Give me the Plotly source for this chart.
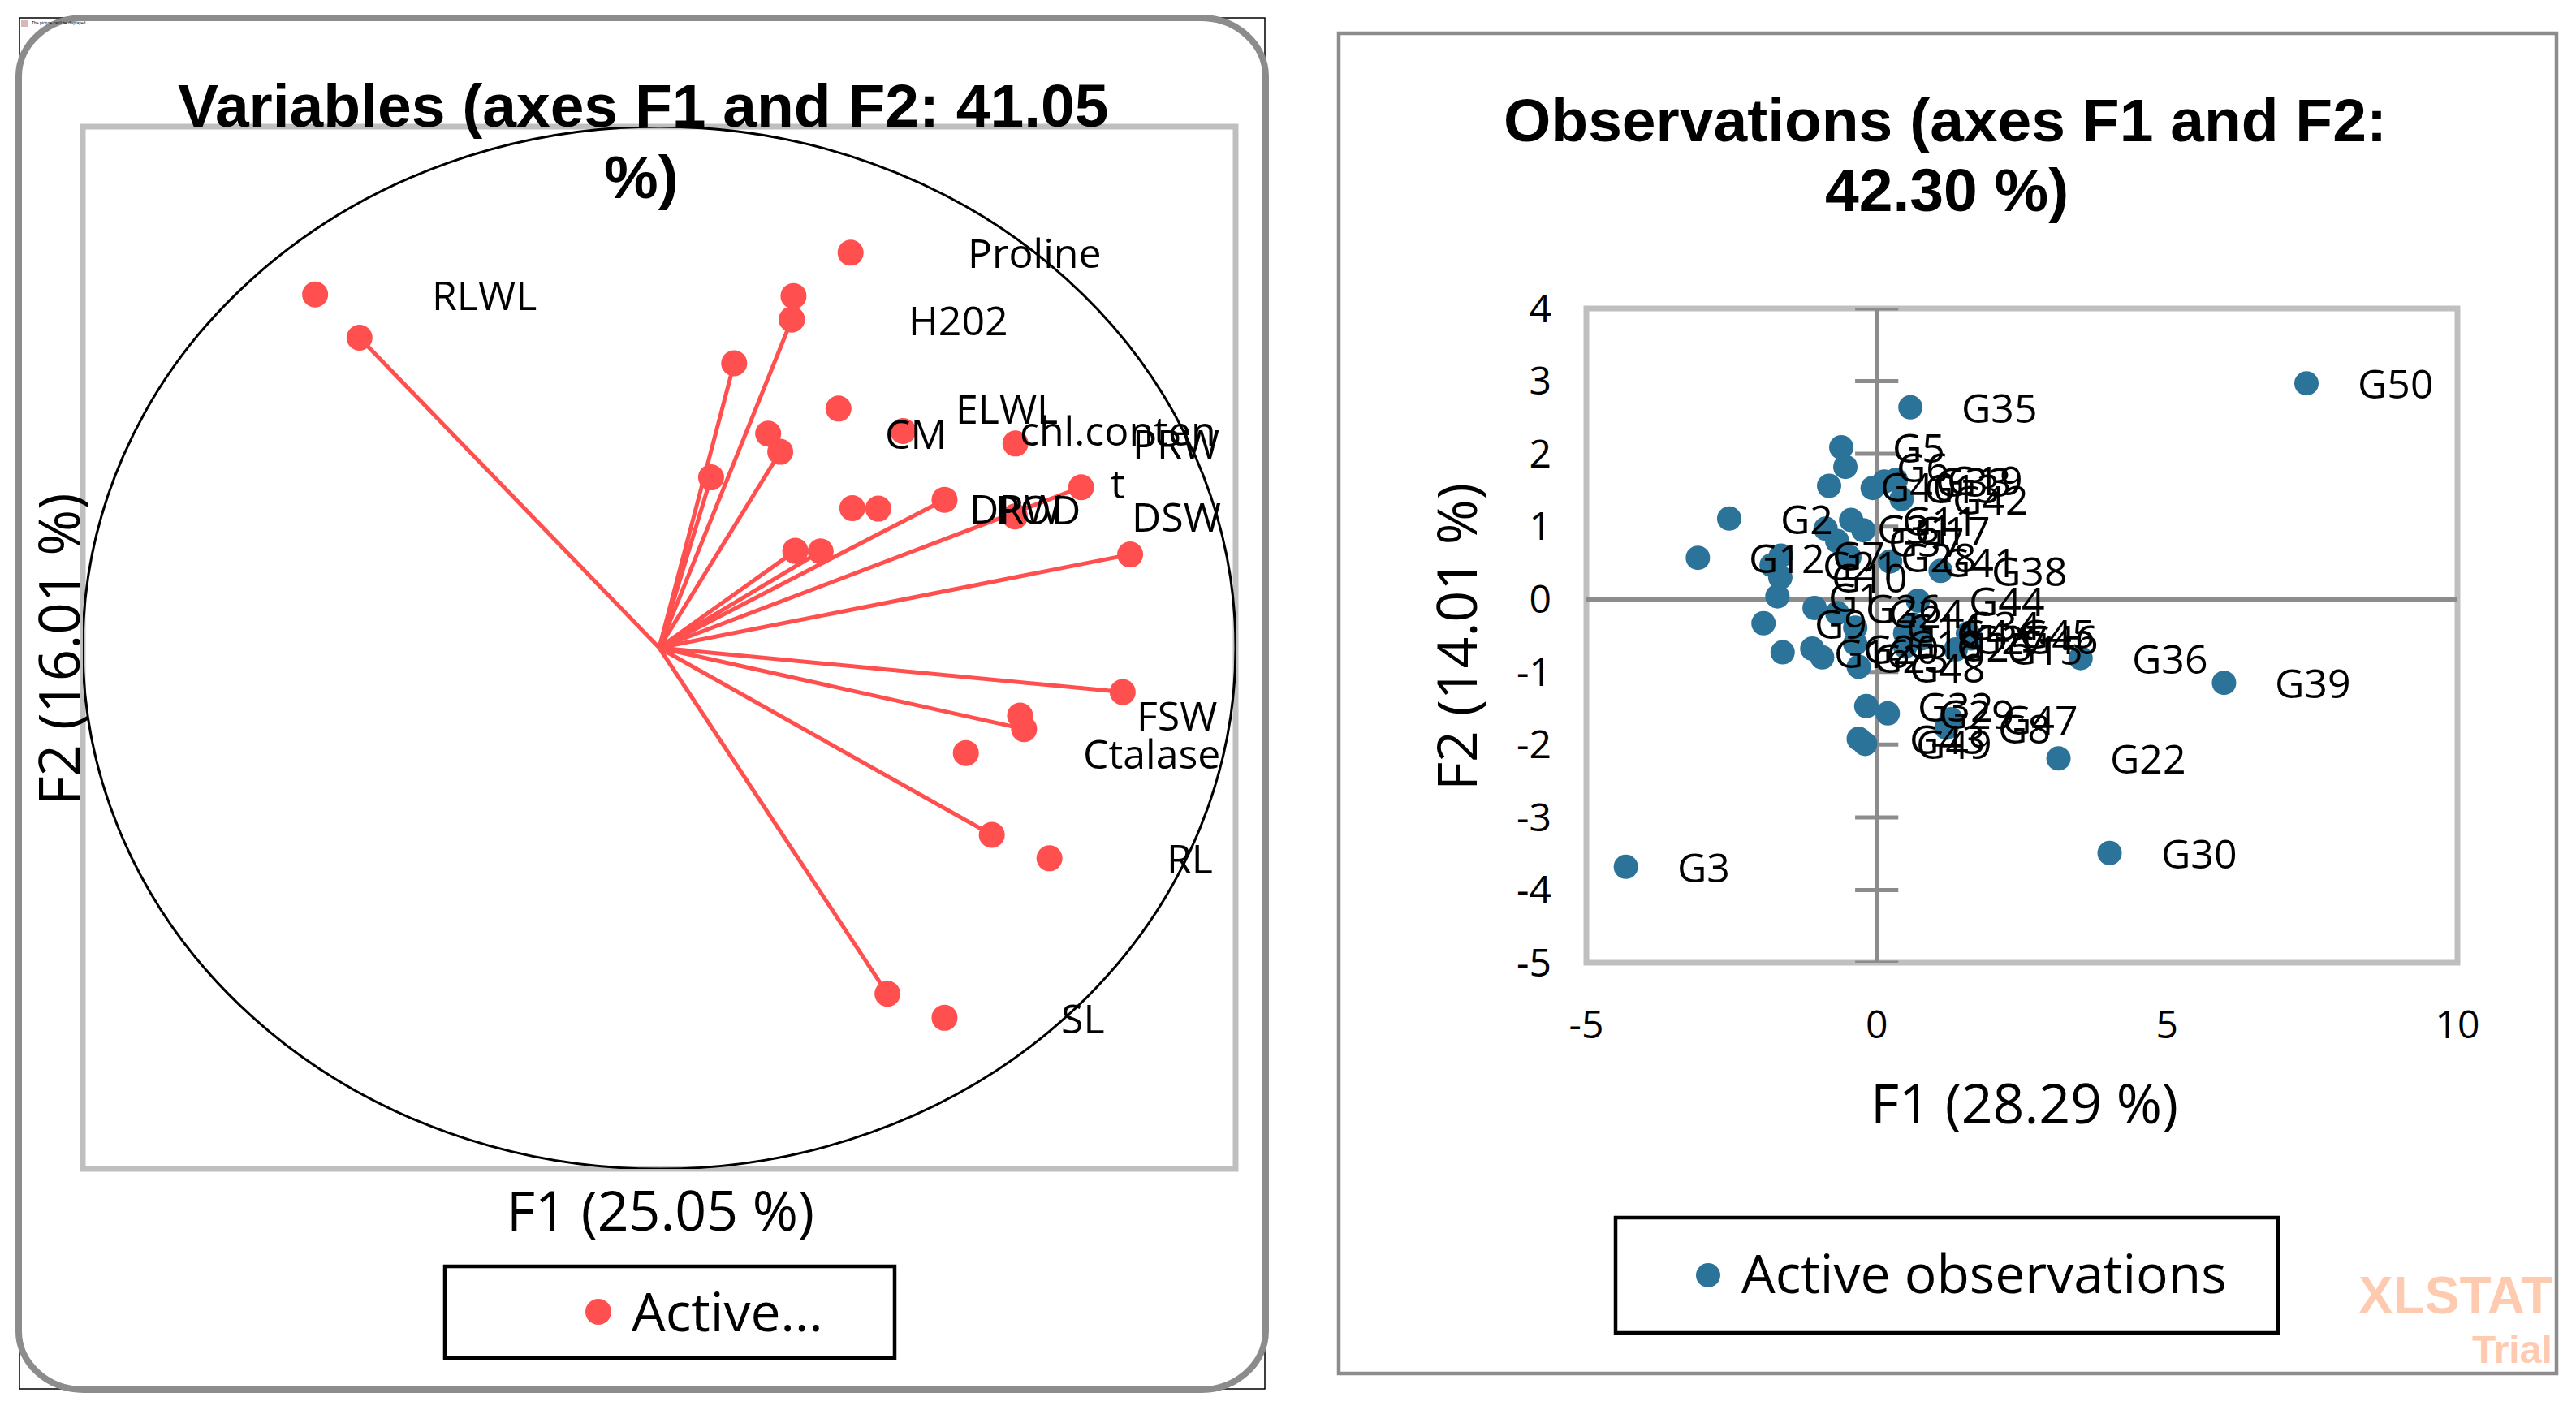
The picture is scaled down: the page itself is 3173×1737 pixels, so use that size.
import plotly.graph_objects as go

W, H = 3173, 1737
RED = "#FF4F4F"
BLUE = "#2C7399"
AX = "#8C8C8C"
BORDER = "#BFBFBF"
FONT = "Open Sans"

# ---- Variables panel ----
vector_x = [-0.52, 0.23, 0.13, 0.09, 0.21, 0.236, 0.28, 0.495, 0.732, 0.817, 0.804, 0.633, 0.577, 0.396]
vector_y = [0.595, 0.63, 0.546, 0.327, 0.376, 0.186, 0.185, 0.284, 0.308, 0.179, -0.085, -0.156, -0.359, -0.664]
var_names = ["RLWL", "Proline", "H202", "ELWL", "CM", "chl.conten<br>t", "PRW",
             "DRW", "POD", "DSW", "FSW", "Ctalase", "RL", "SL"]
var_x = [-0.597, 0.332, 0.23, 0.311, 0.189, 0.423, 0.618, 0.335, 0.38, 0.617, 0.626, 0.532, 0.677, 0.495]
var_y = [0.678, 0.758, 0.63, 0.459, 0.411, 0.416, 0.392, 0.268, 0.267, 0.252, -0.13, -0.202, -0.404, -0.71]
extra_x = [0.233]
extra_y = [0.675]

# ---- Observations panel ----
obs_names = [f"G{i}" for i in range(1, 51)]
obs_x = [-1.71, -2.54, -4.32, 0.49, -0.61, -0.54, -1.65, 1.20, -1.95, -1.66,
         -0.44, -3.08, -0.07, -0.37, 1.36, -1.62, -0.23, -0.37, 0.33, -1.11,
         -1.81, 3.13, -0.94, -0.68, 0.49, -1.07, 0.76, -0.47, 0.19, 4.01,
         -0.88, -0.18, 0.13, 0.63, 0.58, 3.51, -0.68, 1.10, 5.98, -0.82,
         0.23, 0.43, -0.31, 0.71, 1.57, 1.63, 1.28, -0.31, -0.20, 7.40]
obs_y = [0.04, 1.11, -3.68, -0.47, 2.09, 1.82, 0.60, -1.77, -0.33, 0.30,
         1.09, 0.57, 1.53, -0.39, -0.69, -0.73, 0.95, -0.61, 1.64, -0.68,
         0.47, -2.19, -0.80, -0.19, -0.65, -0.12, -0.54, 0.58, -1.57, -3.49,
         0.97, -1.47, 1.62, -0.35, 2.64, -0.81, 0.80, 0.39, -1.15, 1.56,
         0.52, 1.38, -1.92, -0.02, -0.47, -0.54, -1.65, -0.93, -1.99, 2.97]
x_ticks = [-5, 0, 5, 10]
x_tick_labels = ["-5", "0", "5", "10"]
y_ticks = [-5, -4, -3, -2, -1, 0, 1, 2, 3, 4]
y_tick_labels = ["-5", "-4", "-3", "-2", "-1", "0", "1", "2", "3", "4"]


def px(x):
    return x / W


def py(y):
    return 1 - y / H


fig = go.Figure()

line_x, line_y = [], []
for vx, vy in zip(vector_x, vector_y):
    line_x += [0, vx, None]
    line_y += [0, vy, None]
fig.add_trace(go.Scatter(x=line_x, y=line_y, mode="lines", line=dict(color=RED, width=5),
                         xaxis="x", yaxis="y", showlegend=False, hoverinfo="skip"))
fig.add_trace(go.Scatter(x=vector_x + extra_x + var_x, y=vector_y + extra_y + var_y, mode="markers",
                         name="Active...", marker=dict(color=RED, size=32),
                         xaxis="x", yaxis="y", legend="legend"))

fig.add_trace(go.Scatter(x=[0] * len(y_ticks), y=y_ticks, mode="markers",
                         marker=dict(symbol="line-ew", size=38, line=dict(color=AX, width=5)),
                         xaxis="x2", yaxis="y2", showlegend=False, hoverinfo="skip"))
fig.add_trace(go.Scatter(x=obs_x, y=obs_y, mode="markers", name="Active observations", text=obs_names,
                         marker=dict(color=BLUE, size=30), xaxis="x2", yaxis="y2", legend="legend2"))

ann = []
for n, x, y in zip(var_names, var_x, var_y):
    wrapped = "<br>" in n
    ann.append(dict(text=n, x=x, y=y, xref="x", yref="y", xanchor="left",
                    yanchor="top" if wrapped else "middle", xshift=142, yshift=37 if wrapped else 0,
                    align="center", showarrow=False, font=dict(family=FONT, size=50, color="black")))
for n, x, y in zip(obs_names, obs_x, obs_y):
    ann.append(dict(text=n, x=x, y=y, xref="x2", yref="y2", xanchor="left", yanchor="middle", xshift=61,
                    showarrow=False, font=dict(family=FONT, size=50, color="black")))


def paper_text(text, x, y, size, family=FONT, bold=False, color="black", angle=0, xanchor="center"):
    ann.append(dict(text=f"<b>{text}</b>" if bold else text, x=px(x), y=py(y), xref="paper", yref="paper",
                    xanchor=xanchor, yanchor="middle", showarrow=False, textangle=angle,
                    font=dict(family=family, size=size, color=color)))


paper_text("Variables (axes F1 and F2: 41.05", 792, 130, 75, "Liberation Sans", True)
paper_text("%)", 790, 218, 75, "Liberation Sans", True)
paper_text("Observations (axes F1 and F2:", 2396, 148, 75, "Liberation Sans", True)
paper_text("42.30 %)", 2398, 234, 75, "Liberation Sans", True)
paper_text("F1 (25.05 %)", 813, 1489, 68)
paper_text("F2 (16.01 %)", 71, 800, 69, angle=-90)
paper_text("F1 (28.29 %)", 2493, 1357, 68)
paper_text("F2 (14.01 %)", 1792, 785, 68, angle=-90)
paper_text("XLSTAT", 3146, 1596, 64, "Liberation Sans", True, "#FFCBB0", xanchor="right")
paper_text("Trial", 3146, 1662, 48, "Liberation Sans", True, "#FFCBB0", xanchor="right")
paper_text("The picture can't be displayed.", 37, 28, 5, "Liberation Sans", xanchor="left")


def rrect(x0, y0, x1, y1, rx, ry):
    k = 0.45
    X = lambda v: f"{px(v):.5f}"
    Y = lambda v: f"{py(v):.5f}"
    return (f"M {X(x0 + rx)} {Y(y0)} L {X(x1 - rx)} {Y(y0)} "
            f"C {X(x1 - rx * k)} {Y(y0)} {X(x1)} {Y(y0 + ry * k)} {X(x1)} {Y(y0 + ry)} "
            f"L {X(x1)} {Y(y1 - ry)} "
            f"C {X(x1)} {Y(y1 - ry * k)} {X(x1 - rx * k)} {Y(y1)} {X(x1 - rx)} {Y(y1)} "
            f"L {X(x0 + rx)} {Y(y1)} "
            f"C {X(x0 + rx * k)} {Y(y1)} {X(x0)} {Y(y1 - ry * k)} {X(x0)} {Y(y1 - ry)} "
            f"L {X(x0)} {Y(y0 + ry)} "
            f"C {X(x0)} {Y(y0 + ry * k)} {X(x0 + rx * k)} {Y(y0)} {X(x0 + rx)} {Y(y0)} Z")


def box(x0, y0, x1, y1, color, width, fill=None, kind="rect", layer="above"):
    return dict(type=kind, xref="paper", yref="paper", x0=px(x0), x1=px(x1), y0=py(y0), y1=py(y1),
                line=dict(color=color, width=width), fillcolor=fill, layer=layer)


shapes = [
    box(102, 156, 1522, 1440, BORDER, 7, layer="below"),
    box(1954, 380, 3027, 1186, BORDER, 7, layer="below"),
    box(24, 22, 1558, 1711, "black", 1.5),
    dict(type="path", path=rrect(23, 22, 1559, 1712, 80, 72), xref="paper", yref="paper",
         line=dict(color=AX, width=8), layer="above"),
    box(1649, 41, 3149, 1692, AX, 4.5),
    box(548, 1560, 1102, 1673, "black", 4.5),
    box(1990, 1500, 2806, 1642, "black", 4.5),
    box(721, 1600, 753, 1632, RED, 0, RED, "circle"),
    box(2089, 1556, 2119, 1586, BLUE, 0, BLUE, "circle"),
    box(26, 25, 34, 33, "#D8B8B8", 0, "#D8B8B8"),
    dict(type="circle", xref="x", yref="y", x0=-1, x1=1, y0=-1, y1=1,
         line=dict(color="black", width=3), layer="above"),
]

base_axis = dict(showgrid=False, showline=False)
fig.update_layout(
    width=W, height=H, paper_bgcolor="white", plot_bgcolor="white",
    margin=dict(l=0, r=0, t=0, b=0, autoexpand=False), font=dict(family=FONT, color="black"),
    xaxis=dict(domain=[px(102), px(1522)], range=[-1, 1], zeroline=False, showticklabels=False, ticks="", **base_axis),
    yaxis=dict(domain=[py(1440), py(156)], range=[-1, 1], zeroline=False, showticklabels=False, ticks="", **base_axis),
    xaxis2=dict(domain=[px(1954), px(3027)], range=[-5, 10], tickvals=x_ticks, ticktext=x_tick_labels, ticks="",
                anchor="y2", zeroline=True, zerolinecolor=AX, zerolinewidth=5, ticklabelstandoff=44,
                tickfont=dict(family=FONT, size=48), **base_axis),
    yaxis2=dict(domain=[py(1186), py(380)], range=[-5, 4], tickvals=y_ticks, ticktext=y_tick_labels, ticks="",
                anchor="x2", zeroline=True, zerolinecolor=AX, zerolinewidth=5, ticklabelstandoff=42,
                tickfont=dict(family=FONT, size=48), **base_axis),
    legend=dict(x=px(696), y=py(1614), xanchor="left", yanchor="middle", bgcolor="rgba(0,0,0,0)",
                font=dict(family=FONT, size=66), itemwidth=72, itemsizing="trace"),
    legend2=dict(x=px(2063), y=py(1567), xanchor="left", yanchor="middle", bgcolor="rgba(0,0,0,0)",
                 font=dict(family=FONT, size=66), itemwidth=72, itemsizing="trace"),
    annotations=ann, shapes=shapes,
)

fig.write_html("out.html", config={"displayModeBar": False}, post_script="document.body.style.margin='0';")
